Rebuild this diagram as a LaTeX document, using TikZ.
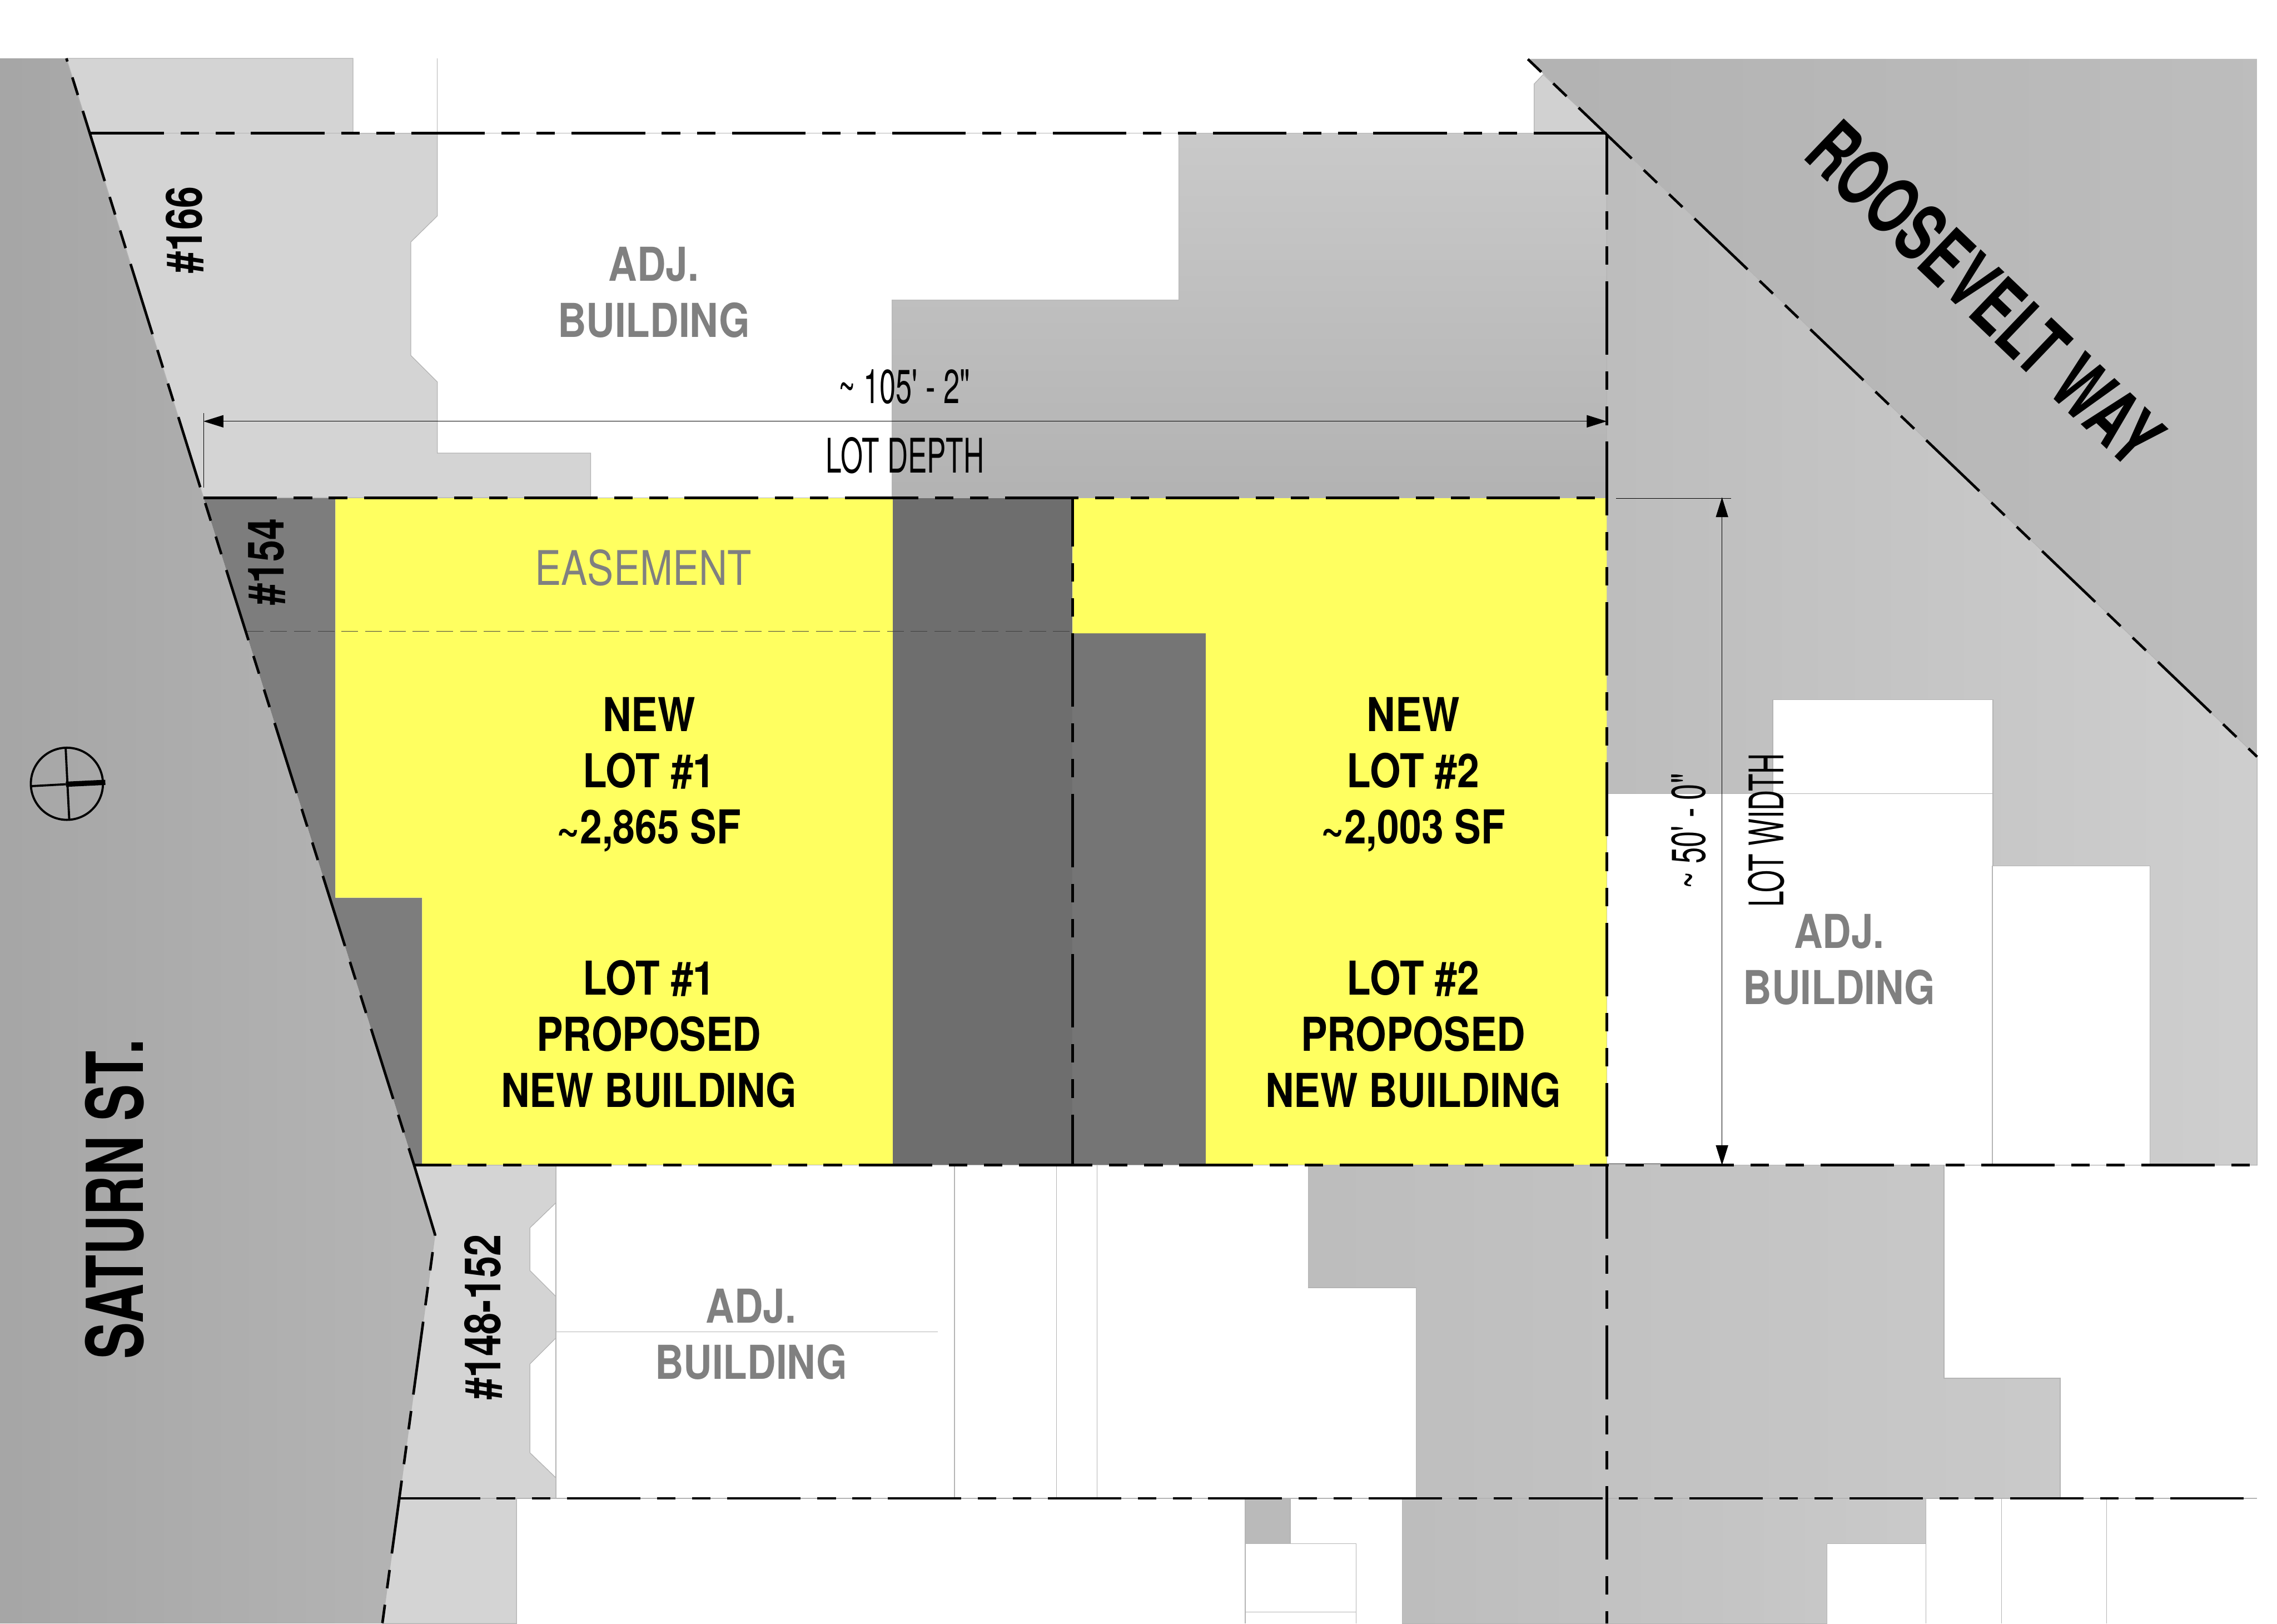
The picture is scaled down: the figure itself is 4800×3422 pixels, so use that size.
\documentclass[tikz,border=0pt]{standalone}
\usepackage{fontspec}
\usetikzlibrary{arrows.meta}
\newfontfamily\fnarb[FakeStretch=0.85]{TeX Gyre Heros}
\newfontfamily\fnumb[FakeStretch=0.78]{TeX Gyre Heros}
\newfontfamily\fstreet[FakeStretch=0.70]{TeX Gyre Heros}
\newfontfamily\fway[FakeStretch=0.68]{TeX Gyre Heros}
\newfontfamily\feas[FakeStretch=0.825]{TeX Gyre Heros}
\newfontfamily\fdimn[FakeStretch=0.60]{TeX Gyre Heros}
\newfontfamily\fdimv[FakeStretch=0.61]{TeX Gyre Heros}
\definecolor{hair}{HTML}{B4B4B4}
\definecolor{lotyellow}{HTML}{FFFF60}
\definecolor{labelgrey}{HTML}{808080}
\tikzset{
  plot/.style={draw=hair,line width=0.15mm},
  lotline/.style={draw=black,line width=0.55mm,
    dash pattern=on 15.5mm off 3.5mm on 3.9mm off 3.5mm on 3.9mm off 3.5mm},
  hairline/.style={draw=hair,line width=0.15mm},
  dimline/.style={draw=black,line width=0.12mm},
  dimarrow/.style={dimline,{Triangle[length=4.2mm,width=2.6mm]}-{Triangle[length=4.2mm,width=2.6mm]}},
  adjlabel/.style={inner sep=0pt,align=center,text=labelgrey,
    font=\fnarb\bfseries\fontsize{28}{33.7}\selectfont},
  lotlabel/.style={inner sep=0pt,align=center,text=black,
    font=\fnarb\bfseries\fontsize{28}{33.7}\selectfont},
  numlabel/.style={inner sep=0pt,rotate=90,text=black,
    font=\fnumb\bfseries\fontsize{30}{36}\selectfont},
  dimlabel/.style={inner sep=0pt,anchor=base,text=black,
    font=\fdimv\fontsize{28.6}{34}\selectfont},
}
\begin{document}
\begin{tikzpicture}[x=0.1mm,y=-0.1mm]
\useasboundingbox (0,0) rectangle (4800,3422);
\fill[white] (0,0) rectangle (4800,3422);

% streets
\shade[left color=black!35,right color=black!29]
  (0,123) -- (140,123) -- (429,1049) -- (873,2456) -- (917,2602) -- (806,3422) -- (0,3422) -- cycle;
\shade[left color=black!30,right color=black!26]
  (3220,124) -- (4758,124) -- (4758,1595) -- cycle;

% light neighbouring plots
\path[plot,fill=black!17]
  (140,123) -- (744,123) -- (744,281) -- (922,281) -- (922,455) -- (866,510) -- (866,749)
  -- (922,805) -- (922,955) -- (1245,955) -- (1245,1049) -- (429,1049) -- cycle;
\path[plot,fill=black!17]
  (873,2456) -- (1172,2456) -- (1172,2535) -- (1117,2588) -- (1117,2678) -- (1172,2733)
  -- (1172,2820) -- (1117,2875) -- (1117,3062) -- (1172,3115) -- (1172,3158) -- (1089,3158)
  -- (1089,3422) -- (806,3422) -- (917,2602) -- cycle;
\path[plot,fill=black!18]
  (3234,282) -- (3234,177) -- (3253,157) -- (3387,282) -- cycle;

% mid grey plots
\path[plot,top color=black!21,bottom color=black!30,draw=hair]
  (2485,281) -- (3387,281) -- (3387,1049) -- (1880,1049) -- (1880,632) -- (2485,632) -- cycle;
\path[plot,left color=black!26,right color=black!19,draw=hair]
  (3387,282) -- (4758,1595) -- (4758,2456) -- (3387,2456) -- cycle;
\path[plot,left color=black!26,right color=black!21,draw=hair]
  (2758,2456) -- (4098,2456) -- (4098,2905) -- (4343,2905) -- (4343,3158) -- (2985,3158)
  -- (2985,2714) -- (2758,2714) -- cycle;
\path[plot,left color=black!26,right color=black!21,draw=hair]
  (2956,3158) -- (4060,3158) -- (4060,3254) -- (3851,3254) -- (3851,3422) -- (2956,3422) -- cycle;
\path[plot,fill=black!27] (2625,3158) rectangle (2720,3254);

% white adjacent building to the right
\path[plot,fill=white]
  (3387,1673) -- (3737,1673) -- (3737,1475) -- (4201,1475) -- (4201,1825) -- (4532,1825)
  -- (4532,2456) -- (3387,2456) -- cycle;

% dark plots
\fill[black!51]
  (429,1049) -- (707,1049) -- (707,1892) -- (890,1892) -- (890,2456) -- (873,2456) -- cycle;
\fill[black!57] (1882,1049) rectangle (2261,2456);
\fill[black!54] (2261,1335) rectangle (2542,2456);

% new lots
\fill[lotyellow]
  (707,1049) -- (1882,1049) -- (1882,2456) -- (890,2456) -- (890,1892) -- (707,1892) -- cycle;
\fill[lotyellow]
  (2261,1049) -- (3387,1049) -- (3387,2456) -- (2542,2456) -- (2542,1335) -- (2261,1335) -- cycle;

% thin building lines
\draw[hairline] (922,123) -- (922,281);
\draw[hairline] (1172,2535) -- (1172,3115);
\draw[hairline] (1172,2807) -- (1977,2807);
\draw[hairline] (2012,2456) -- (2012,3158);
\draw[hairline] (2227,2456) -- (2227,3158);
\draw[hairline] (2313,2456) -- (2313,3158);
\draw[hairline] (3737,1673) -- (4201,1673);
\draw[hairline] (4200,1825) -- (4200,2456);
\draw[hairline] (4060,3254) -- (4060,3422);
\draw[hairline] (4219,3158) -- (4219,3422);
\draw[hairline] (4441,3158) -- (4441,3422);
\draw[hairline] (2625,3254) -- (2625,3422);
\draw[hairline] (2859,3254) -- (2859,3422);
\draw[hairline] (2625,3254) -- (2859,3254);
\draw[hairline] (2625,3398) -- (2859,3398);
\draw[hairline] (191,281) -- (3387,281);
\draw[hairline] (429,1049) -- (3387,1049);
\draw[hairline] (873,2456) -- (4758,2456);
\draw[hairline] (844,3158) -- (4758,3158);

% easement
\draw[line width=0.15mm,draw=black!75,dash pattern=on 3.5mm off 1.5mm] (520,1331) -- (2261,1331);

% lot and street lines
\draw[lotline,dash phase=22.2mm] (140,123) -- (429,1049) -- (873,2456);
\draw[lotline] (873,2456) -- (917,2602) -- (806,3422);
\draw[lotline,dash phase=18.9mm] (3220,124) -- (4758,1595);
\draw[lotline] (191,281) -- (3387,281);
\draw[lotline] (429,1049) -- (3387,1049);
\draw[lotline,dash phase=7.7mm] (873,2456) -- (4758,2456);
\draw[lotline,dash phase=32.5mm] (844,3158) -- (4758,3158);
\draw[line width=0.55mm] (844,3158) -- (860,3158);
\draw[lotline,dash phase=2.7mm] (3387,282) -- (3387,2456);
\draw[lotline] (3387,2456) -- (3387,3422);
\draw[lotline,dash phase=5.2mm] (2261,1049) -- (2261,2456);

% dimensions
\coordinate (dl) at (429,888);
\coordinate (dr) at (3387,888);
\coordinate (wt) at (3630,1048);
\coordinate (wb) at (3630,2456);
\draw[dimarrow] (dl) -- (dr);
\draw[dimarrow] (wt) -- (wb);
\draw[dimline] (429,871) -- (429,1028);
\draw[dimline] (3407,1050) -- (3649,1050);
\draw[dimline] (3387,2453) -- (3650,2453);

% compass
\draw[line width=0.45mm] (141,1652) circle [radius=76];
\draw[line width=0.45mm] (138.4,1577) -- (146,1728);
\draw[line width=0.45mm] (66,1657) -- (139,1653);
\draw[line width=1.1mm] (139,1653) -- (222,1649);

% texts
\node[adjlabel] (adj1) at (1378,616) {ADJ.\\BUILDING};
\node[adjlabel] (adj2) at (3877,2022) {ADJ.\\BUILDING};
\node[adjlabel] (adj3) at (1583,2812) {ADJ.\\BUILDING};
\node[inner sep=0pt,anchor=base,text=labelgrey,font=\feas\fontsize{28.6}{34}\selectfont] (eas) at (1356,1233) {EASEMENT};
\node[lotlabel] (new1) at (1368,1633) {NEW\\LOT \#1\\\textasciitilde 2,865 SF};
\node[lotlabel] (new2) at (2979,1633) {NEW\\LOT \#2\\\textasciitilde 2,003 SF};
\node[lotlabel] (prop1) at (1368,2180) {LOT \#1\\PROPOSED\\NEW BUILDING};
\node[lotlabel] (prop2) at (2979,2180) {LOT \#2\\PROPOSED\\NEW BUILDING};
\node[numlabel] (n166) at (390,485) {\#166};
\node[numlabel] (n154) at (563,1184) {\#154};
\node[numlabel] (n148) at (1019,2776) {\#148-152};
\node[inner sep=0pt,rotate=90,font=\fstreet\bfseries\fontsize{47}{56}\selectfont] (sat) at (241,2528) {SATURN ST.};
\node[inner sep=0pt,rotate=-43.7,font=\fway\bfseries\fontsize{47}{56}\selectfont] (roo) at (4185,619) {ROOSEVELT WAY};
\node[dimlabel] (d105) at (1906,850) {\textasciitilde\ 105' - 2"};
\node[dimlabel,font=\fdimn\fontsize{28.6}{34}\selectfont] (ddep) at (1908,997) {LOT DEPTH};
\node[inner sep=0pt,rotate=90,font=\fdimv\fontsize{28.6}{34}\selectfont] (d50) at (3560,1752) {\textasciitilde\ 50' - 0"};
\node[inner sep=0pt,rotate=90,font=\fdimn\fontsize{28.6}{34}\selectfont] (dwid) at (3723,1750) {LOT WIDTH};
\end{tikzpicture}
\end{document}
